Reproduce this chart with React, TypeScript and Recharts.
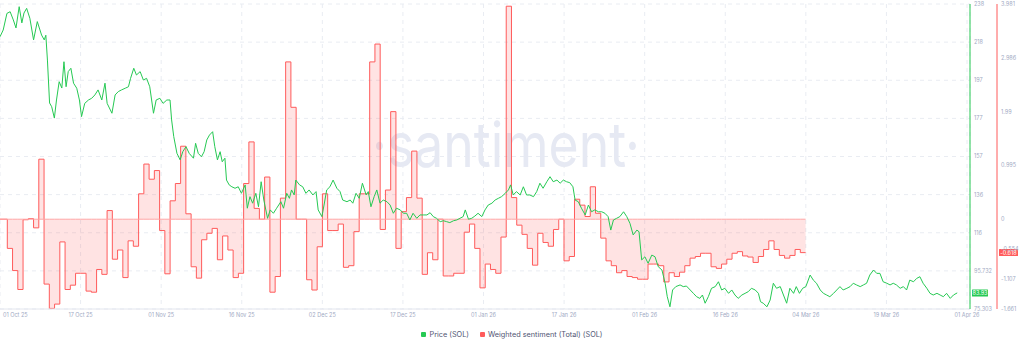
import React from 'react';
import {
  ComposedChart,
  Line,
  Area,
  XAxis,
  YAxis,
  CartesianGrid,
  Legend,
  ReferenceLine,
  Customized,
} from 'recharts';

// ---------- data ----------
const X_TICK_LABELS = [
  '01 Oct 25', '17 Oct 25', '01 Nov 25', '16 Nov 25', '02 Dec 25', '17 Dec 25',
  '01 Jan 26', '17 Jan 26', '01 Feb 26', '16 Feb 26', '04 Mar 26', '19 Mar 26', '01 Apr 26',
];
const X_TICK_STEP = 15.12; // days between labelled ticks
const DAY_SPAN = 182;

const PRICE_TICKS = [75.303, 95.732, 116.161, 136.59, 157.019, 177.448, 197.877, 218.306, 238.735];
const PRICE_TICK_LABELS = ['75.303', '95.732', '116', '136', '157', '177', '197', '218', '238'];
const SENT_TICKS = [-1.661, -1.107, -0.554, 0, 0.995, 1.99, 2.986, 3.981];

// [day, price]
const PRICE_SERIES: [number, number][] = [
  [0, 221.2], [0.6, 224.8], [1.3, 233.7], [1.9, 234.6], [2.5, 230.2], [3.0, 225.9], [3.6, 237.3], [4.1, 228.6],
  [4.5, 233.9], [5.0, 236.4], [5.6, 231.1], [6.3, 219.5], [7.0, 229.3], [7.8, 222.1], [8.3, 219.5], [8.6, 222.0],
  [8.9, 208.7], [9.3, 185.7], [9.7, 183.7], [10.2, 177.6], [10.6, 187.3], [11.1, 197.1], [11.6, 193.7], [12.0, 207.8],
  [12.4, 194.4], [12.8, 202.5], [13.3, 204.3], [13.8, 196.3], [14.4, 193.6], [14.9, 187.3], [15.3, 178.4], [15.9, 185.5],
  [16.6, 187.3], [17.2, 188.2], [17.8, 190.0], [18.4, 192.7], [19.1, 187.3], [19.7, 196.3], [20.1, 185.5], [21.0, 180.2],
  [21.6, 190.0], [22.2, 191.8], [22.8, 192.7], [23.5, 193.6], [24.1, 194.4], [24.5, 198.9], [25.1, 204.3], [25.6, 200.7],
  [26.3, 202.5], [26.9, 198.0], [27.5, 198.9], [28.1, 194.4], [28.8, 180.2], [29.3, 187.3], [30.0, 188.2], [30.6, 185.5],
  [31.3, 187.3], [31.9, 187.3], [32.2, 176.6], [32.6, 167.7], [33.2, 158.7], [33.8, 155.2], [34.3, 159.6], [34.9, 162.3],
  [35.5, 158.7], [36.3, 156.1], [36.7, 164.1], [37.2, 158.7], [37.8, 156.9], [38.3, 159.6], [38.8, 165.9], [39.3, 168.5],
  [39.9, 170.3], [40.3, 162.3], [40.8, 155.2], [41.3, 159.6], [41.7, 154.2], [42.2, 156.1], [42.5, 144.4], [43.0, 141.8],
  [43.5, 140.8], [44.1, 140.0], [44.7, 140.8], [45.3, 137.3], [46.0, 141.8], [46.4, 129.3], [46.9, 135.5], [47.4, 132.0],
  [48.0, 137.3], [48.5, 130.1], [49.0, 143.5], [49.5, 133.7], [50.2, 123.9], [50.7, 128.4], [51.3, 126.6], [51.9, 129.3],
  [52.7, 132.8], [53.2, 129.3], [53.8, 137.3], [54.3, 134.6], [54.7, 139.1], [55.2, 136.4], [55.5, 144.4], [56.2, 141.8],
  [56.8, 140.8], [57.4, 137.3], [58.0, 139.1], [58.7, 136.4], [59.3, 138.2], [59.7, 128.4], [60.4, 124.8], [60.8, 131.0],
  [61.3, 139.1], [61.9, 140.8], [62.5, 144.4], [63.2, 140.0], [63.8, 138.2], [64.3, 133.7], [65.1, 132.8], [65.7, 133.7],
  [66.2, 132.0], [66.8, 137.3], [67.4, 134.6], [68.0, 142.7], [68.7, 136.4], [69.1, 138.2], [69.6, 130.1], [70.2, 135.5],
  [70.7, 139.1], [71.3, 132.0], [71.9, 133.7], [72.6, 132.8], [73.2, 131.0], [73.8, 126.6], [74.4, 129.3], [75.1, 128.4],
  [75.7, 126.6], [76.3, 126.6], [76.9, 123.0], [77.5, 126.6], [78.2, 123.9], [78.8, 125.7], [79.4, 125.7], [80.1, 125.7],
  [80.7, 126.9], [81.3, 124.8], [81.9, 123.9], [82.6, 122.1], [83.2, 122.6], [83.8, 122.1], [84.4, 121.6], [85.1, 122.6],
  [85.7, 123.0], [86.3, 123.9], [86.9, 124.8], [87.3, 128.4], [87.9, 123.4], [88.5, 123.9], [89.1, 125.1], [89.7, 126.6],
  [90.4, 124.8], [91.0, 128.4], [91.6, 131.0], [92.3, 132.0], [92.9, 133.7], [93.5, 134.6], [94.1, 135.5], [94.8, 137.3],
  [95.4, 139.1], [95.8, 141.8], [96.3, 136.4], [96.9, 138.2], [97.6, 136.4], [98.2, 140.8], [98.8, 136.4], [99.4, 136.4],
  [100.1, 135.5], [100.7, 138.2], [101.3, 142.7], [101.9, 140.0], [102.6, 143.5], [103.2, 146.2], [103.8, 143.5], [104.5, 144.4],
  [105.1, 142.7], [105.7, 144.4], [106.3, 143.5], [106.9, 143.0], [107.5, 140.8], [107.9, 133.7], [108.5, 132.8], [109.1, 129.3],
  [109.8, 125.7], [110.4, 131.0], [111.0, 127.4], [111.6, 128.4], [112.3, 127.4], [112.9, 127.4], [113.5, 126.6], [114.1, 124.8],
  [114.6, 117.6], [115.1, 123.0], [115.7, 123.9], [116.3, 124.8], [117.0, 127.4], [117.6, 124.8], [118.2, 121.2], [118.8, 115.0],
  [119.5, 117.6], [119.9, 116.7], [120.4, 101.6], [121.0, 103.3], [121.6, 99.8], [122.3, 104.2], [122.9, 103.3], [123.5, 98.0],
  [124.2, 96.2], [124.8, 89.1], [125.2, 81.9], [125.7, 76.5], [126.2, 85.5], [126.8, 87.3], [127.6, 88.2], [128.2, 87.3],
  [128.8, 87.6], [129.5, 85.5], [130.1, 83.7], [130.7, 81.9], [131.3, 81.0], [131.8, 82.8], [132.3, 78.4], [132.9, 81.9],
  [133.5, 86.4], [134.2, 87.3], [134.8, 89.9], [135.4, 85.5], [136.0, 86.4], [136.7, 83.7], [137.3, 85.5], [137.9, 82.8],
  [138.5, 81.0], [139.2, 82.8], [139.8, 83.7], [140.4, 84.6], [141.0, 86.4], [141.7, 85.5], [142.3, 83.7], [142.7, 79.2],
  [143.2, 78.4], [143.9, 76.5], [144.5, 80.1], [145.1, 89.1], [145.7, 86.4], [146.4, 87.3], [147.0, 82.8], [147.6, 78.4],
  [148.2, 86.4], [148.9, 83.7], [149.4, 87.3], [150.0, 83.7], [150.6, 86.4], [151.2, 87.3], [152.0, 93.5], [152.6, 90.8],
  [153.2, 89.1], [153.9, 85.5], [154.5, 83.7], [155.1, 82.8], [155.7, 81.9], [156.4, 83.7], [157.0, 85.5], [157.6, 87.3],
  [158.2, 85.5], [158.9, 86.4], [159.5, 87.3], [160.1, 89.1], [160.7, 88.2], [161.4, 87.3], [162.0, 88.2], [162.6, 89.1],
  [163.2, 93.5], [163.9, 96.2], [164.5, 94.4], [165.1, 94.4], [165.7, 89.9], [166.4, 89.1], [167.0, 88.2], [167.6, 89.1],
  [168.2, 88.2], [168.9, 86.4], [169.5, 87.3], [170.1, 85.5], [170.7, 90.8], [171.4, 89.9], [172.0, 91.7], [172.6, 92.6],
  [173.2, 89.1], [173.9, 86.4], [174.5, 83.7], [175.1, 82.8], [175.8, 83.7], [176.4, 82.8], [177.0, 81.9], [177.6, 83.7],
  [178.3, 81.0], [178.9, 82.8], [179.6, 83.93],
];

// daily weighted sentiment values (step series)
const SENT_START = 0.384;
const SENT_STEP = 0.9854;
const SENTIMENT_VALUES = [
  0.0, -0.54, -0.95, -1.3, -0.01, 0.01, -0.16, 1.11, -1.2, -1.65, -1.57, -0.42, -1.3, -1.22, -1.0, -1.0,
  -1.33, -1.35, -0.93, -1.02, 0.16, -0.74, -0.57, -1.08, -0.4, -0.5, 0.47, 1.02, 0.74, 0.9, -0.21, -1.01,
  0.34, 0.66, 1.35, 0.1, -0.88, -1.09, -0.38, -0.26, -0.17, -0.75, -0.31, -0.57, -1.08, -1.0, 0.66, 1.43,
  0.2, 0.0, 0.78, -1.35, -1.06, 0.39, 2.91, 2.07, 0.0, 0.0, -1.12, -1.31, -0.51, 0.47, -0.21, -0.21,
  -0.09, -0.89, -0.86, -0.23, 0.47, 0.47, 2.91, 3.24, -0.19, 0.54, 1.99, -0.54, 0.14, 0.4, 1.26, 0.39,
  -1.02, -0.62, -0.75, 0.0, -1.05, -1.05, -1.0, -1.0, -0.24, -0.09, -0.54, -1.27, -0.83, -0.93, -1.0, -0.33,
  3.94, 0.4, -0.11, -0.28, -0.54, -0.85, -0.26, -0.43, -0.5, -0.19, 0.0, -0.77, -0.69, 0.37, 0.26, 0.05,
  0.6, 0.11, -0.35, -0.77, -0.86, -0.99, -0.95, -1.06, -1.08, -1.11, -1.11, -0.83, -0.83, -0.86, -1.16, -0.99,
  -1.06, -0.98, -0.86, -0.72, -0.69, -0.63, -0.63, -0.88, -0.91, -0.83, -0.74, -0.63, -0.6, -0.68, -0.7, -0.8,
  -0.69, -0.56, -0.4, -0.56, -0.67, -0.72, -0.67, -0.56, -0.618,
];

const SERIES_NAMES = ['Price (SOL)', 'Weighted sentiment (Total) (SOL)'];
const GREEN = '#26c953';
const RED = '#ff5b5b';
const SERIES_COLORS = [GREEN, RED];
const FONT = 'Inter, "Open Sans", sans-serif';
const AXIS_TEXT = '#9faac4';

// ---------- derived tables ----------
const priceData = PRICE_SERIES.map(([t, price]) => ({ t, price }));
const sentData = SENTIMENT_VALUES.map((s, i) => ({
  t: i === 0 ? 0 : SENT_START + i * SENT_STEP,
  s,
  zero: 0,
}));
// extend the final step by one period
sentData.push({
  t: SENT_START + SENTIMENT_VALUES.length * SENT_STEP,
  s: SENTIMENT_VALUES[SENTIMENT_VALUES.length - 1],
  zero: 0,
});
const X_TICKS = X_TICK_LABELS.map((_, i) => i * X_TICK_STEP);
const lastPrice = PRICE_SERIES[PRICE_SERIES.length - 1][1];
const lastSent = SENTIMENT_VALUES[SENTIMENT_VALUES.length - 1];

// ---------- components ----------
const XTick = (props: any) => {
  const { x, y, payload } = props;
  const idx = X_TICKS.findIndex((v) => Math.abs(v - payload.value) < 1e-6);
  const first = idx === 0;
  return (
    <text
      x={first ? x + 3 : x}
      y={y + 8}
      textAnchor={first ? 'start' : 'middle'}
      fontSize={5.5}
      fill={AXIS_TEXT}
      fontFamily={FONT}
    >
      {X_TICK_LABELS[idx] ?? ''}
    </text>
  );
};

const Badge = ({ viewBox, text, color, offset, w }: any) => {
  if (!viewBox) return null;
  const right = viewBox.x + viewBox.width;
  const cy = viewBox.y;
  return (
    <g>
      <rect x={right + offset} y={cy - 3.5} width={w} height={7} fill={color} rx={0.5} />
      <text
        x={right + offset + w / 2}
        y={cy + 2}
        textAnchor="middle"
        fontSize={5.5}
        fill="#ffffff"
        fontFamily={FONT}
      >
        {text}
      </text>
    </g>
  );
};

const Watermark = () => (
  <text
    x={372}
    y={167}
    fontSize={62}
    fill="#e6e9f3"
    fontFamily={FONT}
    textLength={268}
    lengthAdjust="spacingAndGlyphs"
  >
    ·santiment·
  </text>
);

const LegendContent = () => (
  <div
    style={{
      height: 20,
      display: 'flex',
      justifyContent: 'center',
      alignItems: 'center',
      fontFamily: FONT,
      fontSize: 7.3,
      color: '#505573',
    }}
  >
    {SERIES_NAMES.map((name, i) => (
      <div key={name} style={{ display: 'flex', alignItems: 'center', marginRight: i === 0 ? 11 : 0 }}>
        <span
          style={{
            width: 5,
            height: 5,
            background: SERIES_COLORS[i],
            borderRadius: 1,
            marginRight: 3,
            display: 'inline-block',
          }}
        />
        <span>{name}</span>
      </div>
    ))}
  </div>
);

export default function App() {
  return (
    <div style={{ position: 'absolute', left: 0, top: 0, width: 1024, height: 347, background: '#fff' }}>
      <ComposedChart width={1024} height={347} margin={{ top: 4, right: 0, bottom: 3, left: 0 }}>
        <Customized component={Watermark} />
        <CartesianGrid yAxisId="price" stroke="#e9ecf2" strokeDasharray="4 4" />
        <XAxis
          dataKey="t"
          type="number"
          domain={[0, DAY_SPAN]}
          ticks={X_TICKS}
          interval={0}
          height={15}
          axisLine={{ stroke: '#e3e6ee' }}
          tickLine={false}
          tickSize={0}
          tickMargin={0}
          tick={<XTick />}
          allowDataOverflow
        />
        <YAxis
          yAxisId="price"
          orientation="right"
          type="number"
          domain={[PRICE_TICKS[0], PRICE_TICKS[PRICE_TICKS.length - 1]]}
          ticks={PRICE_TICKS}
          interval={0}
          width={27}
          axisLine={{ stroke: GREEN }}
          tickLine={false}
          tickSize={2}
          tickMargin={2}
          tick={{ fontSize: 5.5, fill: AXIS_TEXT, fontFamily: FONT }}
          tickFormatter={(v: number, i: number) => PRICE_TICK_LABELS[i] ?? String(v)}
          allowDataOverflow
        />
        <YAxis
          yAxisId="sent"
          orientation="right"
          type="number"
          domain={[SENT_TICKS[0], SENT_TICKS[SENT_TICKS.length - 1]]}
          ticks={SENT_TICKS}
          interval={0}
          width={27}
          axisLine={{ stroke: RED }}
          tickLine={false}
          tickSize={2}
          tickMargin={2}
          tick={{ fontSize: 5.5, fill: AXIS_TEXT, fontFamily: FONT }}
          tickFormatter={(v: number) => String(v)}
          allowDataOverflow
        />
        <Area
          yAxisId="sent"
          data={sentData}
          dataKey="s"
          type="stepAfter"
          stroke={RED}
          strokeWidth={1}
          fill={RED}
          fillOpacity={0.17}
          baseValue={0}
          dot={false}
          activeDot={false}
          isAnimationActive={false}
          name={SERIES_NAMES[1]}
        />
        <Line
          yAxisId="sent"
          data={sentData}
          dataKey="zero"
          type="linear"
          stroke="#ffa6a6"
          strokeWidth={1}
          dot={false}
          activeDot={false}
          isAnimationActive={false}
          legendType="none"
        />
        <Line
          yAxisId="price"
          data={priceData}
          dataKey="price"
          type="linear"
          stroke={GREEN}
          strokeWidth={1}
          dot={false}
          activeDot={false}
          isAnimationActive={false}
          name={SERIES_NAMES[0]}
        />
        <ReferenceLine
          yAxisId="price"
          y={lastPrice}
          stroke="none"
          ifOverflow="visible"
          label={(p: any) => <Badge viewBox={p.viewBox} text={String(lastPrice)} color={GREEN} offset={2} w={16} />}
        />
        <ReferenceLine
          yAxisId="sent"
          y={lastSent}
          stroke="none"
          ifOverflow="visible"
          label={(p: any) => <Badge viewBox={p.viewBox} text={String(lastSent)} color={RED} offset={29} w={19} />}
        />
        <Legend verticalAlign="bottom" align="center" content={() => <LegendContent />} />
      </ComposedChart>
    </div>
  );
}
